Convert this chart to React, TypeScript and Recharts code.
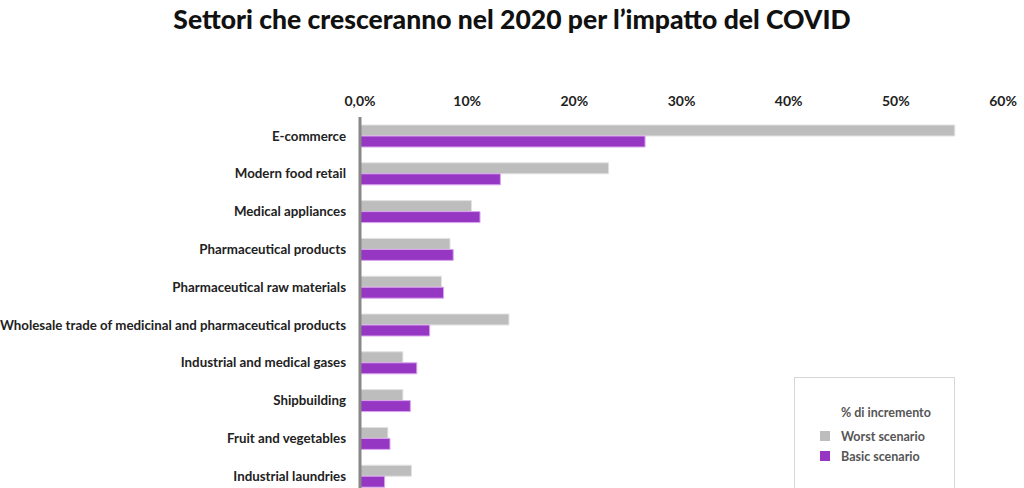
import { BarChart, Bar, XAxis, YAxis } from 'recharts';

const categories = [
  'E-commerce',
  'Modern food retail',
  'Medical appliances',
  'Pharmaceutical products',
  'Pharmaceutical raw materials',
  'Wholesale trade of medicinal and pharmaceutical products',
  'Industrial and medical gases',
  'Shipbuilding',
  'Fruit and vegetables',
  'Industrial laundries',
];
const worstScenario = [55.5, 23.2, 10.4, 8.4, 7.6, 13.9, 4.0, 4.0, 2.6, 4.8];
const basicScenario = [26.6, 13.1, 11.2, 8.7, 7.8, 6.5, 5.3, 4.7, 2.8, 2.3];
const xTicks = [0, 10, 20, 30, 40, 50, 60];

const data = categories.map((name, i) => ({
  name,
  worst: worstScenario[i],
  basic: basicScenario[i],
}));

const FONT = 'Lato, "Open Sans", sans-serif';
const GREY = '#bdbdbd';
const PURPLE = '#9637c3';

// category label, kept on one line
function CategoryTick(props: any) {
  const { x, y, payload } = props;
  return (
    <text
      x={x}
      y={y}
      dy="0.355em"
      textAnchor="end"
      fontSize={13.3}
      fontWeight={700}
      fill="#222"
      fontFamily={FONT}
    >
      {payload.value}
    </text>
  );
}

function LegendBox() {
  return (
    <div
      style={{
        position: 'absolute',
        left: 794,
        top: 377,
        width: 161,
        height: 115,
        border: '1px solid #d6d6d6',
        boxSizing: 'border-box',
        fontFamily: FONT,
        fontSize: 12.5,
        fontWeight: 700,
        color: '#555',
        paddingLeft: 25,
        paddingTop: 27,
      }}
    >
      <div style={{ paddingLeft: 21, marginBottom: 6 }}>% di incremento</div>
      {[
        { label: 'Worst scenario', color: GREY },
        { label: 'Basic scenario', color: PURPLE },
      ].map((it) => (
        <div key={it.label} style={{ display: 'flex', alignItems: 'center', height: 20 }}>
          <span style={{ width: 10, height: 10, background: it.color, marginRight: 11 }} />
          {it.label}
        </div>
      ))}
    </div>
  );
}

export default function App() {
  return (
    <div
      style={{
        position: 'absolute',
        top: 0,
        left: 0,
        width: 1024,
        height: 488,
        overflow: 'hidden',
        background: '#fff',
        fontFamily: FONT,
      }}
    >
      <div
        style={{
          position: 'absolute',
          top: 3,
          left: 0,
          width: 1024,
          textAlign: 'center',
          fontSize: 26.5,
          fontWeight: 900,
          color: '#111',
        }}
      >
        Settori che cresceranno nel 2020 per l’impatto del COVID
      </div>
      <div style={{ position: 'absolute', top: 0, left: 0 }}>
        <BarChart
          width={1024}
          height={500}
          data={data}
          layout="vertical"
          margin={{ top: 87, right: 21, bottom: 5, left: 0 }}
          barGap={0}
          barSize={11}
        >
          <XAxis
            type="number"
            orientation="top"
            domain={[0, 60]}
            ticks={xTicks}
            height={30}
            axisLine={false}
            tickLine={false}
            tickMargin={5}
            interval={0}
            tickFormatter={(v: number) => (v === 0 ? '0,0%' : `${v}%`)}
            tick={{ fontSize: 14, fontWeight: 700, fill: '#222', fontFamily: FONT }}
          />
          <YAxis
            type="category"
            dataKey="name"
            width={360}
            interval={0}
            tickLine={false}
            tickMargin={8}
            axisLine={{ stroke: '#888', strokeWidth: 3 }}
            tick={<CategoryTick />}
          />
          <Bar dataKey="worst" name="Worst scenario" fill={GREY} stroke="#e2e2e2" strokeWidth={1} isAnimationActive={false} />
          <Bar dataKey="basic" name="Basic scenario" fill={PURPLE} stroke="#d9a6ee" strokeWidth={1} isAnimationActive={false} />
        </BarChart>
      </div>
      <LegendBox />
    </div>
  );
}
